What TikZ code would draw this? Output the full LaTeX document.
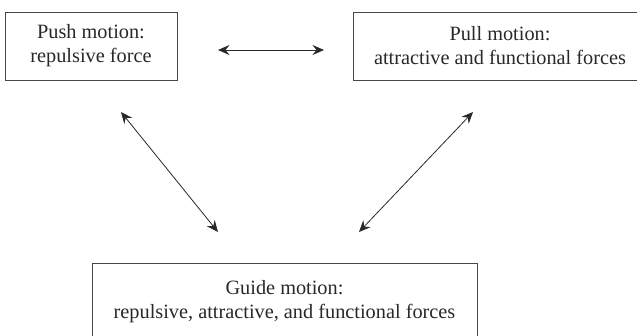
\documentclass[tikz,border=0pt]{standalone}
\usepackage{fontspec}
\setmainfont{Liberation Serif}
\usetikzlibrary{arrows.meta}
\definecolor{ink}{HTML}{2B2728}
\definecolor{frame}{HTML}{4A4647}
\tikzset{
  motionbox/.style={draw=frame, line width=0.9pt, fill=white, text=ink,
    align=center, inner sep=0pt,
    font=\fontsize{20.3}{24}\selectfont},
  link/.style={draw=ink, line width=0.8pt,
    {Stealth[length=11.5pt,width=10pt,inset=4pt]}-{Stealth[length=11.5pt,width=10pt,inset=4pt]}}
}
\begin{document}
\begin{tikzpicture}[x=1pt,y=-1pt]
  \useasboundingbox (0,0) rectangle (637,335);
  \clip (0,0) rectangle (637,335);
  % the three kinds of motion
  \node[motionbox, minimum width=172pt, minimum height=68pt] (push) at (91,46)
    {Push motion:\\repulsive force};
  \node[motionbox, minimum width=294pt, minimum height=68pt] (pull) at (500,46)
    {Pull motion:\\attractive and functional forces};
  \node[motionbox, minimum width=385pt, minimum height=77pt] (guide) at (284.5,301.5)
    {Guide motion:\\repulsive, attractive, and functional forces};
  % arrow end points between the boxes
  \coordinate (pushE) at (218,50);
  \coordinate (pullW) at (324,50);
  \coordinate (pushS) at (121,112);
  \coordinate (guideNW) at (218,232);
  \coordinate (pullS) at (473,112);
  \coordinate (guideNE) at (359,232);
  % mutual relations
  \draw[link] (pushE) -- (pullW);
  \draw[link] (pushS) -- (guideNW);
  \draw[link] (pullS) -- (guideNE);
\end{tikzpicture}
\end{document}
